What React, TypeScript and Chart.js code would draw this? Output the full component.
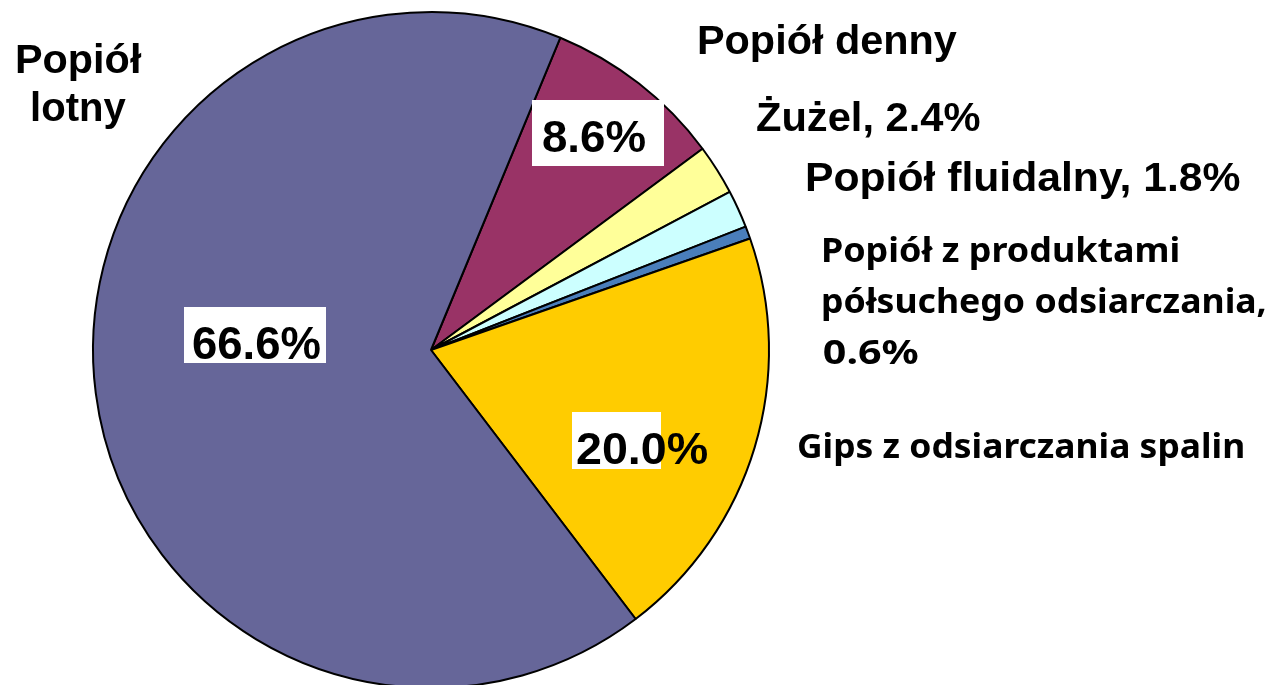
import React, { useEffect, useRef } from "react";
import { Chart, registerables } from "chart.js";

Chart.register(...registerables);

// ---- data ----
const categories = [
  "Popiół denny",
  "Żużel",
  "Popiół fluidalny",
  "Popiół z produktami półsuchego odsiarczania",
  "Gips z odsiarczania spalin",
  "Popiół lotny",
];
const shares = [8.6, 2.4, 1.8, 0.6, 20.0, 66.6];
const sliceColors = ["#993366", "#FFFF99", "#CCFFFF", "#4A7EBB", "#FFCC00", "#666699"];

const pct = (v: number) => v.toFixed(1) + "%";

// ---- text styling / layout ----
const ARIAL = '"Liberation Sans", Arial, sans-serif';
const CALIBRI = '"Noto Sans", "Open Sans", sans-serif';

type TextItem = {
  text: string;
  left: number;
  right: number;
  baseline: number;
  size: number;
  family: string;
  box?: [number, number, number, number];
};

const textItems: TextItem[] = [
  // Popiół lotny (outside, two lines)
  { text: categories[5].split(" ")[0], left: 17, right: 142, baseline: 73, size: 41, family: ARIAL },
  { text: categories[5].split(" ")[1], left: 32, right: 126, baseline: 121, size: 41, family: ARIAL },
  // Popiół denny
  { text: categories[0], left: 699, right: 957, baseline: 54, size: 41, family: ARIAL },
  // Żużel
  { text: `${categories[1]}, ${pct(shares[1])}`, left: 757, right: 980, baseline: 131, size: 41, family: ARIAL },
  // fluidalny
  { text: `${categories[2]}, ${pct(shares[2])}`, left: 807, right: 1240, baseline: 191, size: 41, family: ARIAL },
  // półsuchego (three lines)
  { text: "Popiół z produktami", left: 823, right: 1178, baseline: 262, size: 34, family: CALIBRI },
  { text: "półsuchego odsiarczania,", left: 823, right: 1265, baseline: 313, size: 34, family: CALIBRI },
  { text: pct(shares[3]), left: 824, right: 918, baseline: 364, size: 34, family: CALIBRI },
  // Gips
  { text: categories[4], left: 798, right: 1243, baseline: 458, size: 34, family: CALIBRI },
  // inside value labels with white boxes
  { text: pct(shares[0]), left: 543, right: 645, baseline: 152, size: 45, family: ARIAL, box: [532, 100, 664, 166] },
  { text: pct(shares[5]), left: 193, right: 320, baseline: 359, size: 46, family: ARIAL, box: [184, 307, 326, 363] },
  { text: pct(shares[4]), left: 577, right: 707, baseline: 464, size: 44, family: ARIAL, box: [572, 412, 661, 469] },
];

const labelPlugin = {
  id: "pieLabels",
  afterDraw(chart: any) {
    const ctx: CanvasRenderingContext2D = chart.ctx;
    for (const t of textItems) {
      ctx.save();
      if (t.box) {
        ctx.fillStyle = "#FFFFFF";
        ctx.fillRect(t.box[0], t.box[1], t.box[2] - t.box[0], t.box[3] - t.box[1]);
      }
      ctx.font = `bold ${t.size}px ${t.family}`;
      ctx.textAlign = "left";
      ctx.textBaseline = "alphabetic";
      ctx.fillStyle = "#000000";
      const m = ctx.measureText(t.text);
      const ink = m.actualBoundingBoxLeft + m.actualBoundingBoxRight;
      const sx = ink > 0 ? (t.right - t.left) / ink : 1;
      ctx.translate(t.left, t.baseline);
      ctx.scale(sx, 1);
      ctx.fillText(t.text, m.actualBoundingBoxLeft, 0);
      ctx.restore();
    }
  },
};

export default function App() {
  const ref = useRef<HTMLCanvasElement | null>(null);

  useEffect(() => {
    if (!ref.current) return;
    const chart = new Chart(ref.current, {
      type: "pie",
      data: {
        labels: categories,
        datasets: [
          {
            data: shares,
            backgroundColor: sliceColors,
            borderColor: "#000000",
            borderWidth: 2,
          },
        ],
      },
      options: {
        responsive: false,
        animation: false,
        rotation: 22.5,
        layout: { padding: { left: 92, top: 11, right: 500, bottom: 11 } },
        plugins: {
          legend: { display: false },
          tooltip: { enabled: false },
        },
      },
      plugins: [labelPlugin],
    });
    return () => chart.destroy();
  }, []);

  return (
    <div style={{ position: "fixed", left: 0, top: 0, width: 1270, height: 700, background: "#FFFFFF" }}>
      <canvas ref={ref} width={1270} height={700} style={{ width: 1270, height: 700, display: "block" }} />
    </div>
  );
}
